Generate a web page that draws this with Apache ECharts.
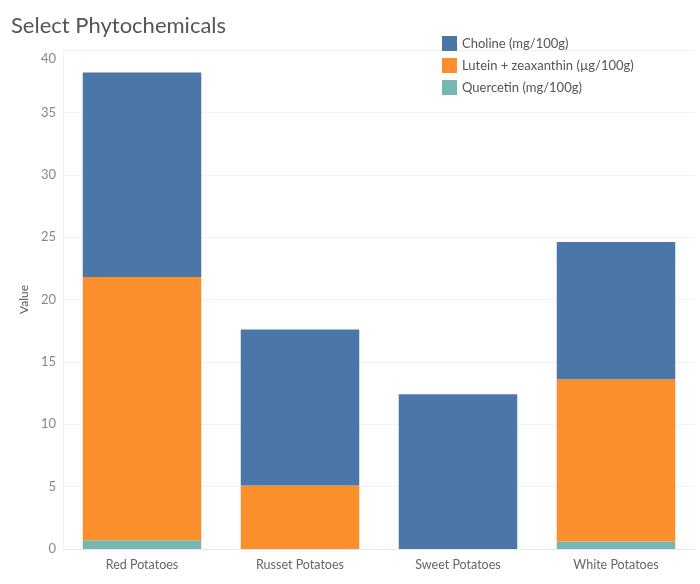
<!DOCTYPE html>
<html>
<head>
<meta charset="utf-8">
<script src="https://cdn.jsdelivr.net/npm/echarts@6/dist/echarts.min.js"></script>
<style>
  html, body { margin: 0; padding: 0; background: #fff; }
  #chart { width: 700px; height: 584px; }
</style>
</head>
<body>
<div id="chart"></div>
<script>
const categories = ['Red Potatoes', 'Russet Potatoes', 'Sweet Potatoes', 'White Potatoes'];
const choline = [16.4, 12.5, 12.4, 11.0];
const lutein = [21.1, 5.1, 0, 13.0];
const quercetin = [0.7, 0, 0, 0.6];
const yTicks = [0, 5, 10, 15, 20, 25, 30, 35, 40];

const chart = echarts.init(document.getElementById('chart'));
const font = 'Lato, "Open Sans", sans-serif';

const option = {
  title: {
    text: 'Select Phytochemicals',
    left: 6,
    top: 10,
    textStyle: { fontFamily: font, fontSize: 22, fontWeight: 'normal', color: '#555' }
  },
  legend: {
    data: ['Choline (mg/100g)', 'Lutein + zeaxanthin (µg/100g)', 'Quercetin (mg/100g)'],
    orient: 'vertical',
    left: 442,
    top: 36,
    padding: 0,
    itemWidth: 15,
    itemHeight: 15,
    itemGap: 7,
    icon: 'rect',
    textStyle: { fontFamily: font, fontSize: 13, color: '#555' }
  },
  grid: { left: 63, right: 5, top: 50, bottom: 35 },
  xAxis: {
    type: 'category',
    data: categories,
    axisTick: { show: false },
    axisLine: { lineStyle: { color: '#e6e6e6' } },
    axisLabel: { fontFamily: font, fontSize: 12.5, color: '#666', margin: 9 }
  },
  yAxis: {
    type: 'value',
    min: yTicks[0],
    max: yTicks[yTicks.length - 1],
    interval: 5,
    name: 'Value',
    nameLocation: 'middle',
    nameGap: 33,
    nameTextStyle: { fontFamily: font, fontSize: 12, color: '#555' },
    axisLine: { show: true, lineStyle: { color: '#f2f2f2' } },
    axisTick: { show: false },
    axisLabel: {
      fontFamily: font,
      fontSize: 13,
      color: '#888',
      margin: 7,
      formatter: v => (v === 40 ? '{top|40}' : String(v)),
      rich: { top: { fontFamily: font, fontSize: 13, color: '#888', padding: [18, 0, 0, 0] } }
    },
    splitLine: { lineStyle: { color: '#f2f2f2' } }
  },
  series: [
    {
      name: 'Quercetin (mg/100g)',
      type: 'bar',
      stack: 'total',
      barWidth: '75%',
      itemStyle: { color: '#76b7b2' },
      data: quercetin
    },
    {
      name: 'Lutein + zeaxanthin (µg/100g)',
      type: 'bar',
      stack: 'total',
      barWidth: '75%',
      itemStyle: { color: '#fb8f2b' },
      data: lutein
    },
    {
      name: 'Choline (mg/100g)',
      type: 'bar',
      stack: 'total',
      barWidth: '75%',
      itemStyle: { color: '#4b76a8' },
      data: choline
    }
  ]
};

chart.setOption(option);
</script>
</body>
</html>
